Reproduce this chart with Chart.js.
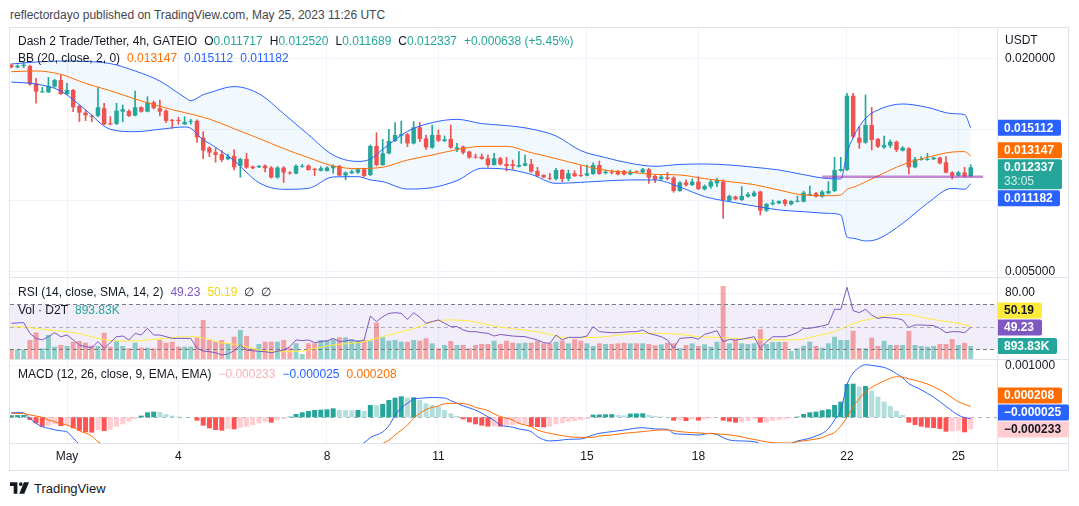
<!DOCTYPE html>
<html>
<head>
<meta charset="utf-8">
<title>Dash 2 Trade/Tether, 4h, GATEIO</title>
<script src="https://cdn.jsdelivr.net/npm/chart.js@4.4.1/dist/chart.umd.min.js"></script>
<style>
  html, body { margin:0; padding:0; background:#ffffff; }
  body { width:1079px; height:506px; position:relative; overflow:hidden; font-family:"Liberation Sans", Arial, sans-serif; color:#131722; }
  #hdr { position:absolute; left:10px; top:7px; font-size:12px; line-height:16px; color:#434651; white-space:nowrap; }
  #frame { position:absolute; left:9px; top:27px; width:1060px; height:444px; border:1px solid #e0e3eb; box-sizing:border-box; }
  .hsep { position:absolute; left:10px; width:1058px; height:1px; background:#e0e3eb; }
  #vsep { position:absolute; left:997px; top:28px; width:1px; height:442px; background:#e0e3eb; }
  canvas { position:absolute; left:0; }
  .leg { position:absolute; left:18px; font-size:12px; line-height:14px; white-space:pre; color:#131722; }
  .leg .g { margin-left:7px; }
  #usdt { position:absolute; left:1005px; top:33px; font-size:12px; line-height:14px; color:#131722; }
  #brand { position:absolute; left:10px; top:480px; height:16px; display:flex; align-items:center; font-size:13px; color:#131722; }
  #brand svg { margin-right:5px; }
</style>
</head>
<body>
<div id="hdr">reflectordayo published on TradingView.com, May 25, 2023 11:26 UTC</div>
<div id="frame"></div>
<canvas id="cMain" width="1079" height="249" style="top:28px"></canvas>
<canvas id="cRsi" width="1079" height="81" style="top:278px"></canvas>
<canvas id="cMacd" width="1079" height="110" style="top:360px"></canvas>
<div class="hsep" style="top:277px"></div>
<div class="hsep" style="top:359px"></div>
<div class="hsep" style="top:443px"></div>
<div id="vsep"></div>
<div class="leg" id="leg1" style="top:34px"></div>
<div class="leg" id="leg2" style="top:51px"></div>
<div class="leg" id="leg3" style="top:285px"></div>
<div class="leg" id="leg4" style="top:303px"></div>
<div class="leg" id="leg5" style="top:367px"></div>
<div id="usdt">USDT</div>
<div id="brand"><svg width="19" height="12" viewBox="0 0 36 22"><path d="M0 0h14v22H7V7H0z" fill="#131722"/><circle cx="20.5" cy="3.6" r="3.6" fill="#131722"/><path d="M26.5 0H36l-9 22h-9.5z" fill="#131722"/></svg>TradingView</div>

<script>
// ---------------- DATA (4h candles; index 0 = May 1 00:00 UTC) ----------------
const FIRST = -9;

const opens = [
  0.01953,0.01937,0.01946,0.01946,0.01824,0.01761,0.01761,0.01801,0.01847,0.01749,
  0.01777,0.01665,0.01618,0.01597,0.01595,0.01649,0.01543,0.01539,0.01625,0.01630,
  0.01597,0.01656,0.01625,0.01691,0.01649,0.01632,0.01567,0.01567,0.01536,0.01553,
  0.01560,0.01443,0.01372,0.01340,0.01326,0.01291,0.01314,0.01244,0.01293,0.01239,
  0.01234,0.01246,0.01232,0.01162,0.01232,0.01197,0.01190,0.01237,0.01246,0.01223,
  0.01210,0.01208,0.01227,0.01244,0.01176,0.01192,0.01196,0.01220,0.01180,0.01384,
  0.01250,0.01332,0.01419,0.01456,0.01466,0.01402,0.01515,0.01437,0.01372,0.01461,
  0.01419,0.01433,0.01362,0.01379,0.01344,0.01309,0.01309,0.01297,0.01250,0.01297,
  0.01257,0.01255,0.01238,0.01245,0.01257,0.01208,0.01180,0.01161,0.01152,0.01215,
  0.01152,0.01192,0.01180,0.01175,0.01187,0.01250,0.01192,0.01203,0.01208,0.01208,
  0.01184,0.01203,0.01198,0.01220,0.01173,0.01152,0.01163,0.01161,0.01067,0.01128,
  0.01109,0.01133,0.01079,0.01098,0.01121,0.01133,0.00999,0.01028,0.01004,0.01028,
  0.01032,0.01063,0.00929,0.00974,0.00981,0.01004,0.00974,0.00992,0.00992,0.01039,
  0.01051,0.01028,0.01051,0.01067,0.01210,0.01215,0.01737,0.01442,0.01407,0.01531,
  0.01433,0.01374,0.01386,0.01414,0.01351,0.01367,0.01234,0.01285,0.01285,0.01290,
  0.01302,0.01269,0.01198,0.01175,0.01198,0.011717
];
const highs = [
  0.01960,0.01955,0.01976,0.01953,0.01859,0.01796,0.01866,0.01852,0.01883,0.01824,
  0.01782,0.01672,0.01637,0.01602,0.01796,0.01684,0.01590,0.01684,0.01672,0.01637,
  0.01770,0.01660,0.01730,0.01700,0.01707,0.01637,0.01571,0.01585,0.01590,0.01571,
  0.01567,0.01485,0.01379,0.01368,0.01351,0.01326,0.01356,0.01298,0.01333,0.01244,
  0.01246,0.01251,0.01239,0.01239,0.01239,0.01204,0.01251,0.01255,0.01251,0.01227,
  0.01239,0.01237,0.01251,0.01248,0.01202,0.01215,0.01227,0.01227,0.01391,0.01477,
  0.01431,0.01501,0.01548,0.01559,0.01473,0.01555,0.01548,0.01461,0.01531,0.01496,
  0.01454,0.01531,0.01402,0.01384,0.01348,0.01327,0.01327,0.01320,0.01332,0.01304,
  0.01304,0.01285,0.01344,0.01320,0.01290,0.01234,0.01182,0.01192,0.01227,0.01220,
  0.01215,0.01210,0.01243,0.01250,0.01266,0.01278,0.01215,0.01215,0.01213,0.01213,
  0.01215,0.01210,0.01227,0.01227,0.01180,0.01180,0.01198,0.01168,0.01133,0.01145,
  0.01152,0.01168,0.01110,0.01145,0.01156,0.01145,0.01039,0.01032,0.01098,0.01056,
  0.01067,0.01067,0.00981,0.01004,0.00999,0.01009,0.00999,0.01032,0.01067,0.01102,
  0.01058,0.01070,0.01133,0.01304,0.01304,0.01754,0.01754,0.01519,0.01742,0.01655,
  0.01437,0.01454,0.01426,0.01419,0.01379,0.01372,0.01304,0.01309,0.01332,0.01306,
  0.01306,0.01309,0.01203,0.01206,0.01234,0.012520
];
const lows = [
  0.01932,0.01932,0.01934,0.01812,0.01684,0.01759,0.01759,0.01796,0.01745,0.01745,
  0.01625,0.01555,0.01562,0.01555,0.01590,0.01532,0.01532,0.01534,0.01555,0.01590,
  0.01595,0.01621,0.01623,0.01644,0.01595,0.01548,0.01508,0.01536,0.01534,0.01536,
  0.01408,0.01295,0.01308,0.01270,0.01274,0.01286,0.01216,0.01164,0.01227,0.01223,
  0.01232,0.01202,0.01157,0.01157,0.01127,0.01185,0.01187,0.01234,0.01213,0.01176,
  0.01208,0.01206,0.01192,0.01174,0.01146,0.01190,0.01190,0.01168,0.01175,0.01243,
  0.01248,0.01327,0.01414,0.01402,0.01379,0.01398,0.01414,0.01360,0.01367,0.01414,
  0.01414,0.01367,0.01344,0.01327,0.01297,0.01297,0.01290,0.01234,0.01248,0.01250,
  0.01208,0.01220,0.01234,0.01243,0.01198,0.01168,0.01161,0.01145,0.01145,0.01133,
  0.01138,0.01168,0.01168,0.01173,0.01184,0.01184,0.01187,0.01187,0.01180,0.01180,
  0.01180,0.01196,0.01196,0.01121,0.01126,0.01145,0.01145,0.01058,0.01065,0.01102,
  0.01105,0.01077,0.01074,0.01086,0.01098,0.00875,0.00992,0.01004,0.00999,0.01023,
  0.01028,0.00899,0.00922,0.00969,0.00976,0.00962,0.00969,0.00990,0.00990,0.01035,
  0.01023,0.01023,0.01046,0.01063,0.01205,0.01210,0.01438,0.01367,0.01402,0.01356,
  0.01372,0.01367,0.01372,0.01344,0.01348,0.01187,0.01229,0.01283,0.01283,0.01288,
  0.01257,0.01194,0.01152,0.01173,0.01168,0.011689
];
const closes = [
  0.01937,0.01948,0.01955,0.01817,0.01766,0.01766,0.01805,0.01847,0.01749,0.01777,
  0.01656,0.01618,0.01599,0.01590,0.01656,0.01536,0.01536,0.01632,0.01642,0.01595,
  0.01656,0.01625,0.01691,0.01649,0.01625,0.01560,0.01560,0.01560,0.01553,0.01560,
  0.01443,0.01351,0.01337,0.01321,0.01286,0.01309,0.01234,0.01293,0.01232,0.01227,
  0.01244,0.01227,0.01162,0.01232,0.01197,0.01190,0.01244,0.01244,0.01215,0.01215,
  0.01227,0.01232,0.01244,0.01176,0.01197,0.01204,0.01220,0.01173,0.01384,0.01250,
  0.01332,0.01419,0.01461,0.01468,0.01402,0.01515,0.01433,0.01374,0.01461,0.01421,
  0.01430,0.01372,0.01374,0.01337,0.01302,0.01302,0.01292,0.01250,0.01297,0.01255,
  0.01243,0.01243,0.01250,0.01262,0.01203,0.01173,0.01163,0.01154,0.01215,0.01152,
  0.01192,0.01173,0.01173,0.01192,0.01250,0.01187,0.01203,0.01196,0.01184,0.01184,
  0.01203,0.01198,0.01220,0.01161,0.01149,0.01168,0.01152,0.01067,0.01128,0.01109,
  0.01133,0.01081,0.01102,0.01133,0.01145,0.01004,0.01032,0.01009,0.01032,0.01044,
  0.01056,0.00929,0.00976,0.00985,0.00997,0.00976,0.00997,0.00999,0.01056,0.01046,
  0.01028,0.01063,0.01067,0.01215,0.01222,0.01737,0.01449,0.01407,0.01531,0.01426,
  0.01379,0.01391,0.01414,0.01356,0.01372,0.01234,0.01290,0.01290,0.01290,0.01302,
  0.01262,0.01196,0.01175,0.01198,0.011699,0.012337
];
// volume in thousands of D2T
const volumesK = [
  667,667,667,1306,1836,736,1650,846,963,894,
  1190,1238,1121,915,894,1808,846,1238,894,736,
  1121,777,777,736,1306,1121,1190,846,846,846,
  1465,2682,1306,1190,1306,1080,1533,1994,1581,736,
  1031,1190,1190,1190,1306,777,1080,344,1080,1080,
  1306,1306,1355,1492,1492,1355,1306,1306,1258,2496,
  1492,1258,1306,1190,1190,1306,1258,1423,1080,736,
  963,1238,963,963,736,963,1031,1031,1258,1040,
  1258,1121,1080,1121,1121,1258,1080,1080,1190,1258,
  1080,1355,1258,1080,894,1080,1031,1031,1080,1121,
  1080,1080,1080,1031,942,1011,1121,1080,736,963,
  1080,894,1011,846,1190,5019,1080,1306,1080,1031,
  1080,2042,1031,1169,1169,1169,571,736,915,1190,
  894,777,1080,1533,1306,1306,1946,736,736,1465,
  894,1258,963,963,963,1925,963,894,846,894,
  1031,1031,1375,963,1121,893.83
];
const macdHist = [
  4.0e-5,4.3e-5,4.5e-5,-5.1e-5,-1.15e-4,-1.79e-4,-1.60e-4,-1.35e-4,-1.67e-4,-1.47e-4,
  -2.12e-4,-2.56e-4,-2.88e-4,-2.95e-4,-2.44e-4,-2.63e-4,-2.37e-4,-1.79e-4,-1.35e-4,-8.3e-5,
  -3.2e-5,3.2e-5,9.6e-5,1.09e-4,1.03e-4,6.4e-5,3.2e-5,1.3e-5,6e-6,3e-6,
  -6.4e-5,-1.60e-4,-2.12e-4,-2.44e-4,-2.56e-4,-2.24e-4,-2.31e-4,-1.99e-4,-1.79e-4,-1.47e-4,
  -1.15e-4,-9.0e-5,-1.03e-4,-5.1e-5,-3.2e-5,1.3e-5,6.4e-5,9.6e-5,1.22e-4,1.41e-4,
  1.47e-4,1.54e-4,1.73e-4,1.41e-4,1.38e-4,1.35e-4,1.41e-4,1.22e-4,2.37e-4,2.31e-4,
  2.56e-4,3.33e-4,3.78e-4,4.04e-4,3.78e-4,3.85e-4,3.33e-4,2.69e-4,2.37e-4,2.05e-4,
  1.41e-4,7.7e-5,2.6e-5,-3.8e-5,-9.6e-5,-1.35e-4,-1.60e-4,-1.79e-4,-1.73e-4,-1.79e-4,
  -1.60e-4,-1.47e-4,-1.35e-4,-1.28e-4,-1.79e-4,-1.86e-4,-1.92e-4,-1.79e-4,-1.35e-4,-1.15e-4,
  -8.3e-5,-7.1e-5,-5.1e-5,-3.2e-5,5.1e-5,5.4e-5,5.8e-5,6.1e-5,4.5e-5,3.8e-5,
  7.1e-5,7.4e-5,7.7e-5,4.5e-5,2.6e-5,1.3e-5,6e-6,-6.4e-5,-5.1e-5,-7.1e-5,
  -3.8e-5,-6.4e-5,-3.8e-5,-1.9e-5,-6e-6,-6.4e-5,-8.3e-5,-1.03e-4,-9.6e-5,-7.1e-5,
  -3.8e-5,-1.03e-4,-9.6e-5,-7.1e-5,-5.1e-5,-3.8e-5,-1.9e-5,1.3e-5,6.4e-5,9.6e-5,
  1.09e-4,1.35e-4,1.54e-4,2.37e-4,3.01e-4,6.41e-4,6.47e-4,5.90e-4,6.03e-4,5.13e-4,
  3.97e-4,3.01e-4,2.18e-4,1.22e-4,4.5e-5,-1.03e-4,-1.47e-4,-1.79e-4,-1.99e-4,-2.05e-4,
  -2.24e-4,-2.76e-4,-2.69e-4,-2.63e-4,-2.88e-4,-2.33e-4
];
// Bollinger Bands (20, 2) read at sample candles: [index, upper, basis, lower]
const bbRows = [
  [-9,0.01960,0.01906,0.01833],[-5,0.01974,0.01911,0.01819],[-1,0.01981,0.01887,0.01770],
  [3,0.01978,0.01824,0.01637],[7,0.01963,0.01772,0.01501],[11,0.01911,0.01714,0.01484],
  [15,0.01840,0.01662,0.01501],[19,0.01726,0.01618,0.01517],[20,0.01702,0.01608,0.01508],
  [22,0.01744,0.01585,0.01426],[23,0.01758,0.01573,0.01402],[27,0.01801,0.01505,0.01280],
  [31,0.01751,0.01437,0.01126],[35,0.01611,0.01365,0.01079],[39,0.01463,0.01302,0.01086],
  [43,0.01320,0.01243,0.01166],[47,0.01275,0.01224,0.01168],[49,0.01292,0.01227,0.01145],
  [51,0.01360,0.01234,0.01133],[55,0.01487,0.01285,0.01081],[59,0.01548,0.01320,0.01091],
  [63,0.01571,0.01358,0.01140],[67,0.01541,0.01381,0.01227],[71,0.01527,0.01381,0.01220],
  [75,0.01503,0.01337,0.01184],[79,0.01454,0.01295,0.01121],[83,0.01351,0.01250,0.01128],
  [87,0.01302,0.01213,0.01138],[91,0.01262,0.01198,0.01145],[95,0.01241,0.01184,0.01145],
  [99,0.01254,0.01180,0.01095],[103,0.01257,0.01154,0.01028],[107,0.01250,0.01133,0.00992],
  [111,0.01234,0.01112,0.00962],[115,0.01215,0.01074,0.00934],[119,0.01182,0.01039,0.00922],
  [123,0.01154,0.01034,0.00910],[125,0.01152,0.01039,0.00899],[126,0.01332,0.01079,0.00746],
  [127,0.01444,0.01093,0.00735],[129,0.01578,0.01131,0.00716],[131,0.01637,0.01173,0.00730],
  [135,0.01679,0.01252,0.00840],[139,0.01655,0.01304,0.00981],[143,0.01611,0.01341,0.01086],
  [145,0.01604,0.01344,0.01079],[146,0.015112,0.013147,0.011182]
];
// RSI (14) and its SMA (14): [index, value]
const rsiPts = [
  [-9,53.0],[-7,53.6],[-6,44.0],[-5,39.5],[-4,38.1],[-3,41.0],[-2,44.6],[-1,41.0],[0,42.5],[1,38.1],
  [2,33.6],[3,32.1],[4,31.2],[5,36.6],[6,30.6],[8,41.0],[9,41.6],[10,38.1],[11,44.0],[12,42.5],
  [13,48.5],[14,42.5],[15,42.5],[16,41.0],[17,39.5],[18,39.5],[20,39.5],[21,30.6],[22,28.2],[23,27.6],
  [24,26.7],[25,24.6],[26,25.5],[27,28.5],[28,33.6],[29,29.1],[30,28.5],[31,27.9],[32,27.6],[33,26.7],
  [35,29.1],[36,32.1],[37,38.1],[38,37.5],[39,38.1],[40,35.7],[41,36.6],[42,37.2],[43,39.5],[44,36.6],
  [45,37.2],[46,38.1],[47,36.6],[48,38.1],[49,59.5],[50,54.5],[51,58.9],[52,61.9],[53,62.5],[54,61.9],
  [55,56.5],[56,62.5],[57,58.3],[58,53.0],[59,54.5],[60,56.0],[61,53.0],[62,50.0],[63,50.0],[64,47.0],
  [65,45.5],[66,45.5],[67,44.6],[68,44.0],[69,41.6],[70,43.0],[72,41.6],[74,41.0],[76,38.1],[77,35.7],
  [78,35.1],[79,42.5],[80,38.1],[81,40.4],[83,40.4],[84,41.6],[85,50.0],[86,45.5],[88,44.6],[89,44.6],
  [91,45.5],[92,45.5],[93,47.0],[94,44.0],[95,42.5],[96,41.0],[97,38.0],[98,30.6],[99,39.5],[101,40.4],
  [102,38.7],[103,43.1],[104,44.6],[105,46.4],[106,36.6],[107,38.5],[108,38.1],[109,38.7],[111,41.0],[112,30.6],
  [113,36.6],[114,41.0],[116,41.0],[117,42.5],[118,44.6],[119,48.5],[120,48.5],[122,50.6],[123,52.1],[124,65.5],
  [125,65.5],[126,85.2],[127,64.3],[128,62.5],[129,65.5],[130,60.4],[131,57.4],[132,58.3],[134,57.4],[135,56.0],
  [136,49.1],[137,51.5],[138,51.5],[140,50.9],[141,48.5],[142,44.6],[143,45.5],[144,45.5],[145,44.6],[146,49.23]
];
const rsiMaPts = [
  [-9,50.6],[-8,50.0],[-5,48.5],[-3,47.0],[0,45.5],[3,42.5],[5,39.5],[8,37.2],[11,37.2],[13,38.1],
  [16,39.5],[19,41.0],[20,41.0],[23,38.7],[24,36.6],[27,34.2],[30,30.6],[32,28.2],[35,27.6],[38,28.2],
  [40,30.6],[43,33.6],[46,35.1],[47,35.7],[48,36.6],[51,41.0],[54,45.5],[57,50.0],[59,54.5],[62,56.0],
  [65,55.1],[67,53.0],[70,49.5],[74,47.0],[78,43.1],[80,40.4],[83,40.1],[87,41.0],[90,43.1],[93,44.0],
  [96,44.0],[99,43.1],[102,41.0],[105,40.4],[108,39.5],[111,38.7],[114,38.1],[117,38.1],[119,39.0],[121,41.6],
  [124,45.5],[126,50.6],[128,54.5],[131,58.3],[134,61.0],[136,60.6],[138,58.4],[141,55.4],[144,53.0],[146,50.19]
];
// MACD (12, 26, 9) line and signal: [index, value]
const macdPts = [
  [-9,8.8e-5],[-8,9.2e-5],[-7,8.5e-5],[-6,-2e-5],[-5,-1.15e-4],[-4,-1.8e-4],[-3,-2.1e-4],[-2,-2.4e-4],[-1,-2.6e-4],[0,-2.8e-4],
  [1,-4.0e-4],[2,-5.2e-4],[4,-6.5e-4],[8,-7.5e-4],[14,-7e-4],[20,-7.2e-4],[24,-9e-4],[30,-9.5e-4],[36,-8.5e-4],[42,-7e-4],
  [46,-6e-4],[48,-4.9e-4],[49,-3.9e-4],[51,-2.8e-4],[52,-1.6e-4],[53,4e-5],[54,1.8e-4],[55,2.7e-4],[56,3.5e-4],[57,3.65e-4],
  [59,3.8e-4],[61,3.7e-4],[62,3.2e-4],[63,2.7e-4],[64,2.2e-4],[65,1.8e-4],[66,1.4e-4],[68,1e-5],[69,-6e-5],[70,-1.47e-4],
  [72,-1.9e-4],[73,-2.24e-4],[75,-2.76e-4],[76,-3.72e-4],[78,-4.55e-4],[80,-4.36e-4],[81,-4.23e-4],[83,-4.17e-4],[85,-3.4e-4],[86,-3.08e-4],
  [88,-2.76e-4],[90,-2.44e-4],[93,-1.99e-4],[95,-2.24e-4],[97,-2.31e-4],[98,-3.08e-4],[100,-3.27e-4],[102,-3.4e-4],[104,-3.08e-4],[105,-3.3e-4],
  [106,-3.9e-4],[107,-4.36e-4],[109,-4.55e-4],[111,-4.68e-4],[113,-5.4e-4],[116,-5.4e-4],[117,-5.0e-4],[118,-4.55e-4],[120,-4.04e-4],[121,-3.59e-4],
  [122,-3.1e-4],[123,-2.2e-4],[124,-5e-5],[125,1.3e-4],[126,6.2e-4],[127,8.5e-4],[128,9.6e-4],[129,1.01e-3],[130,1.0e-3],[131,9.8e-4],
  [132,9.6e-4],[133,9.1e-4],[134,8.4e-4],[135,7.6e-4],[136,6.5e-4],[138,5.3e-4],[139,4.6e-4],[140,3.9e-4],[142,2.1e-4],[143,1.2e-4],
  [144,4e-5],[145,-5e-6],[146,-2.5e-5]
];
const signalPts = [
  [-9,7.7e-5],[-7,7.3e-5],[-6,4.4e-5],[-4,0],[-3,-5e-5],[-1,-1.15e-4],[0,-1.5e-4],[1,-1.9e-4],[2,-2.6e-4],[4,-3.6e-4],
  [5,-4.7e-4],[8,-6e-4],[15,-7.5e-4],[25,-8.5e-4],[35,-9e-4],[45,-7e-4],[50,-5.5e-4],[52,-4.4e-4],[53,-3.4e-4],[55,-1.5e-4],
  [56,-2e-5],[58,1.5e-4],[60,2.2e-4],[61,2.6e-4],[63,2.7e-4],[65,2.4e-4],[66,1.9e-4],[68,1.3e-4],[69,6.4e-5],[70,1.5e-5],
  [72,-5.1e-5],[73,-1.15e-4],[75,-1.79e-4],[76,-2.44e-4],[78,-3.08e-4],[80,-3.53e-4],[81,-3.72e-4],[83,-3.85e-4],[85,-3.85e-4],[86,-3.59e-4],
  [88,-3.4e-4],[90,-3.08e-4],[93,-2.76e-4],[95,-2.5e-4],[97,-2.44e-4],[99,-2.76e-4],[101,-2.95e-4],[103,-3.08e-4],[106,-3.27e-4],[108,-3.53e-4],
  [110,-4.04e-4],[112,-4.49e-4],[114,-4.87e-4],[116,-4.94e-4],[117,-4.94e-4],[118,-4.68e-4],[120,-4.36e-4],[122,-3.91e-4],[123,-3.4e-4],[124,-2.9e-4],
  [125,-1.7e-4],[126,0],[127,2e-4],[128,3.6e-4],[129,4.9e-4],[130,5.8e-4],[131,6.4e-4],[132,7.0e-4],[133,7.5e-4],[134,7.8e-4],
  [135,7.7e-4],[136,7.4e-4],[138,6.8e-4],[140,5.9e-4],[142,4.6e-4],[144,3.0e-4],[146,2.08e-4]
];
// user-drawn horizontal level
const levelPts = [[122,0.01168],[148,0.01168]];
// time axis
const tickPos = [0,18,42,60,84,102,126,144];
const tickLabels = ['May','4','8','11','15','18','22','25'];
const countdown = '33:05';

// ---------------- VIEW / STYLE ----------------
const X_MIN = -9.21, X_MAX = 150.24;
const MAIN_RANGE = [0.004627, 0.02213];
const RSI_RANGE = [21.05, 93.53];
const MACD_RANGE = [-0.000494, 0.001102];
const VOL_MAX = 5570;
const UP = '#26a69a', DOWN = '#ef5350', BLUE = '#2962ff', ORANGE = '#ff6d00';
const PURPLE = '#7e57c2', YELLOW = '#ffeb3b', GRID = '#f0f3fa', TXT = '#131722';
const LAB_FONT = '"Liberation Sans", Arial, sans-serif';

Chart.defaults.font.family = LAB_FONT;
Chart.defaults.animation = false;

const N = opens.length, LAST = N - 1;
const xs = opens.map((_, k) => FIRST + k);
const isDown = k => closes[k] < opens[k];
const fmt6 = v => (v < 0 ? '\u2212' : '') + Math.abs(v).toFixed(6);
const toXY = arr => arr.map(p => ({ x: p[0], y: p[1] }));

function xAxis(showLabels) {
  return {
    type: 'linear', min: X_MIN, max: X_MAX, offset: false, bounds: 'data',
    grid: { color: GRID, drawTicks: false, offset: false, lineWidth: 1 },
    border: { display: false },
    ticks: {
      display: showLabels, autoSkip: false, maxRotation: 0, padding: 6, color: TXT,
      font: { family: LAB_FONT, size: 12 },
      callback: v => { const k = tickPos.indexOf(v); return k < 0 ? '' : tickLabels[k]; }
    },
    afterBuildTicks: s => { s.ticks = tickPos.map(v => ({ value: v })); },
    afterFit: s => { s.height = showLabels ? 27 : 0; s.paddingLeft = 0; s.paddingRight = 0; }
  };
}
function yAxis(range, gridVals) {
  return {
    type: 'linear', position: 'right', min: range[0], max: range[1], bounds: 'data',
    grid: { color: GRID, drawTicks: false, lineWidth: 1 },
    border: { display: false },
    ticks: { display: false },
    afterBuildTicks: s => { s.ticks = gridVals.map(v => ({ value: v })); },
    afterFit: s => { s.width = 71; s.paddingTop = 0; s.paddingBottom = 0; }
  };
}

// right-axis labels + colored last-value boxes (positions via scales, overlaps pushed apart)
const rightLabels = {
  id: 'rightLabels',
  afterDraw(chart, args, o) {
    const ctx = chart.ctx, x0 = chart.chartArea.right;
    const boxes = o.boxes.map(b => {
      const sc = chart.scales[b.axis || 'y'];
      return Object.assign({}, b, { top: sc.getPixelForValue(b.value) - 8, h: b.sub ? 30 : 16 });
    });
    const sorted = boxes.slice().sort((p, q) => p.top - q.top);
    const ai = sorted.indexOf(boxes[o.anchor]);
    for (let k = ai - 1; k >= 0; k--) {
      const n = sorted[k + 1];
      if (sorted[k].top + sorted[k].h > n.top - 1) sorted[k].top = n.top - 1 - sorted[k].h;
    }
    for (let k = ai + 1; k < sorted.length; k++) {
      const p = sorted[k - 1];
      if (sorted[k].top < p.top + p.h + 1) sorted[k].top = p.top + p.h + 1;
    }
    const y = chart.scales.y;
    ctx.save();
    ctx.textBaseline = 'middle'; ctx.textAlign = 'left';
    ctx.font = '12px ' + LAB_FONT; ctx.fillStyle = TXT;
    for (const t of o.ticks) {
      const py = y.getPixelForValue(t);
      if (boxes.some(b => py > b.top - 7 && py < b.top + b.h + 7)) continue;
      ctx.fillText(o.fmt(t), x0 + 8, py);
    }
    for (const b of boxes) {
      ctx.font = 'bold 12px ' + LAB_FONT;
      const w = Math.ceil(ctx.measureText(b.text).width) + 13;
      ctx.fillStyle = b.bg;
      ctx.beginPath();
      if (ctx.roundRect) ctx.roundRect(x0 + 1, b.top, w, b.h, [0, 2, 2, 0]); else ctx.rect(x0 + 1, b.top, w, b.h);
      ctx.fill();
      ctx.fillStyle = b.fg;
      ctx.fillText(b.text, x0 + 7, b.top + 8.5);
      if (b.sub) {
        ctx.font = '12px ' + LAB_FONT; ctx.fillStyle = 'rgba(255,255,255,0.8)';
        ctx.fillText(b.sub, x0 + 7, b.top + 22.5);
      }
    }
    ctx.restore();
  }
};

const rsiBands = {
  id: 'rsiBands',
  beforeDatasetsDraw(chart, a, o) {
    const ctx = chart.ctx, ca = chart.chartArea, y = chart.scales.y;
    const t = y.getPixelForValue(o.fill[0]), b = y.getPixelForValue(o.fill[1]);
    ctx.save(); ctx.fillStyle = 'rgba(126,87,194,0.1)';
    ctx.fillRect(ca.left, t, ca.right - ca.left, b - t); ctx.restore();
  },
  afterDatasetDraw(chart, a, o) {
    if (a.index !== o.after) return;
    const ctx = chart.ctx, ca = chart.chartArea, y = chart.scales.y;
    ctx.save(); ctx.setLineDash([4, 3]); ctx.lineWidth = 1;
    o.levels.forEach((lv, k) => {
      const py = Math.round(y.getPixelForValue(lv)) + 0.5;
      ctx.strokeStyle = o.colors[k];
      ctx.beginPath(); ctx.moveTo(ca.left, py); ctx.lineTo(ca.right, py); ctx.stroke();
    });
    ctx.restore();
  }
};

const zeroLine = {
  id: 'zeroLine',
  beforeDatasetsDraw(chart) {
    const ctx = chart.ctx, ca = chart.chartArea, y = chart.scales.y;
    const py = Math.round(y.getPixelForValue(0)) + 0.5;
    ctx.save(); ctx.setLineDash([4, 4]); ctx.lineWidth = 1; ctx.strokeStyle = 'rgba(120,123,134,0.6)';
    ctx.beginPath(); ctx.moveTo(ca.left, py); ctx.lineTo(ca.right, py); ctx.stroke(); ctx.restore();
  }
};

const baseOpts = (extraPlugins, scales) => ({
  responsive: false, maintainAspectRatio: false, animation: false, events: [],
  layout: { padding: { left: 10, right: 11, top: 0, bottom: 0 } },
  plugins: Object.assign({ legend: { display: false }, tooltip: { enabled: false }, filler: { drawTime: 'beforeDatasetsDraw' } }, extraPlugins),
  scales
});

// ---------------- MAIN PRICE PANE ----------------
const lastBB = bbRows[bbRows.length - 1];
new Chart(document.getElementById('cMain'), {
  type: 'bar',
  data: { datasets: [
    { type: 'line', data: bbRows.map(r => ({ x: r[0], y: r[1] })), borderColor: BLUE, borderWidth: 1, pointRadius: 0,
      cubicInterpolationMode: 'monotone', fill: '+1', backgroundColor: 'rgba(33,150,243,0.06)', order: 2 },
    { type: 'line', data: bbRows.map(r => ({ x: r[0], y: r[3] })), borderColor: BLUE, borderWidth: 1, pointRadius: 0,
      cubicInterpolationMode: 'monotone', fill: false, order: 2 },
    { type: 'line', data: bbRows.map(r => ({ x: r[0], y: r[2] })), borderColor: ORANGE, borderWidth: 1, pointRadius: 0,
      cubicInterpolationMode: 'monotone', fill: false, order: 2 },
    { type: 'bar', data: xs.map((x, k) => ({ x, y: [lows[k], highs[k]] })), grouped: false, barThickness: 1,
      backgroundColor: c => (c.dataIndex !== undefined && isDown(c.dataIndex)) ? DOWN : UP, borderWidth: 0, order: 5 },
    { type: 'bar', data: xs.map((x, k) => ({ x, y: [opens[k], closes[k]] })), grouped: false,
      categoryPercentage: 1, barPercentage: 0.72, minBarLength: 1,
      backgroundColor: c => (c.dataIndex !== undefined && isDown(c.dataIndex)) ? DOWN : UP, borderWidth: 0, order: 4 },
    { type: 'line', data: toXY(levelPts), borderColor: 'rgba(156,39,176,0.55)', borderWidth: 2.5, pointRadius: 0, fill: false, order: 0 }
  ]},
  options: baseOpts({
    rightLabels: {
      ticks: [0.005, 0.01, 0.015, 0.02], fmt: v => v.toFixed(6), anchor: 2,
      boxes: [
        { value: lastBB[1], text: lastBB[1].toFixed(6), bg: BLUE, fg: '#ffffff' },
        { value: lastBB[2], text: lastBB[2].toFixed(6), bg: ORANGE, fg: '#ffffff' },
        { value: closes[LAST], text: closes[LAST].toFixed(6), sub: countdown, bg: isDown(LAST) ? DOWN : UP, fg: '#ffffff' },
        { value: lastBB[3], text: lastBB[3].toFixed(6), bg: BLUE, fg: '#ffffff' }
      ]
    }
  }, { x: xAxis(false), y: yAxis(MAIN_RANGE, [0.005, 0.01, 0.015, 0.02]) }),
  plugins: [rightLabels]
});

// ---------------- RSI + VOLUME PANE ----------------
const lastRsi = rsiPts[rsiPts.length - 1][1], lastRsiMa = rsiMaPts[rsiMaPts.length - 1][1];
new Chart(document.getElementById('cRsi'), {
  type: 'bar',
  data: { datasets: [
    { type: 'bar', yAxisID: 'yv', data: xs.map((x, k) => ({ x, y: volumesK[k] })), grouped: false,
      categoryPercentage: 1, barPercentage: 0.8, borderWidth: 0,
      backgroundColor: c => (c.dataIndex !== undefined && isDown(c.dataIndex)) ? 'rgba(239,83,80,0.5)' : 'rgba(38,166,154,0.5)', order: 10 },
    { type: 'line', data: toXY(rsiMaPts), borderColor: YELLOW, borderWidth: 1, pointRadius: 0, cubicInterpolationMode: 'monotone', order: 1 },
    { type: 'line', data: toXY(rsiPts), borderColor: PURPLE, borderWidth: 1, pointRadius: 0, tension: 0, order: 0 }
  ]},
  options: baseOpts({
    rsiBands: { fill: [70, 30], levels: [70, 50, 30], colors: ['#787b86', 'rgba(120,123,134,0.55)', '#787b86'], after: 0 },
    rightLabels: {
      ticks: [80], fmt: v => v.toFixed(2), anchor: 1,
      boxes: [
        { value: lastRsiMa, text: lastRsiMa.toFixed(2), bg: YELLOW, fg: TXT },
        { value: lastRsi, text: lastRsi.toFixed(2), bg: PURPLE, fg: '#ffffff' },
        { axis: 'yv', value: volumesK[LAST], text: volumesK[LAST].toFixed(2) + 'K', bg: isDown(LAST) ? DOWN : UP, fg: '#ffffff' }
      ]
    }
  }, {
    x: xAxis(false), y: yAxis(RSI_RANGE, [80]),
    yv: { type: 'linear', display: false, min: 0, max: VOL_MAX, afterFit: s => { s.paddingTop = 0; s.paddingBottom = 0; } }
  }),
  plugins: [rsiBands, rightLabels]
});

// ---------------- MACD PANE ----------------
const histColor = k => {
  const v = macdHist[k], p = k > 0 ? macdHist[k - 1] : v;
  return v >= 0 ? (v >= p ? '#26a69a' : '#b2dfdb') : (v <= p ? '#ff5252' : '#ffcdd2');
};
const lastMacd = macdPts[macdPts.length - 1][1], lastSig = signalPts[signalPts.length - 1][1], lastHist = macdHist[LAST];
new Chart(document.getElementById('cMacd'), {
  type: 'bar',
  data: { datasets: [
    { type: 'bar', data: xs.map((x, k) => ({ x, y: macdHist[k] })), grouped: false, categoryPercentage: 1, barPercentage: 0.8,
      borderWidth: 0, backgroundColor: c => c.dataIndex !== undefined ? histColor(c.dataIndex) : UP, order: 5 },
    { type: 'line', data: toXY(macdPts), borderColor: BLUE, borderWidth: 1, pointRadius: 0, cubicInterpolationMode: 'monotone', order: 1 },
    { type: 'line', data: toXY(signalPts), borderColor: ORANGE, borderWidth: 1, pointRadius: 0, cubicInterpolationMode: 'monotone', order: 0 }
  ]},
  options: baseOpts({
    rightLabels: {
      ticks: [0.001], fmt: v => v.toFixed(6), anchor: 2,
      boxes: [
        { value: lastSig, text: fmt6(lastSig), bg: ORANGE, fg: '#ffffff' },
        { value: lastMacd, text: fmt6(lastMacd), bg: BLUE, fg: '#ffffff' },
        { value: lastHist, text: fmt6(lastHist), bg: '#ffcdd2', fg: TXT }
      ]
    }
  }, { x: xAxis(true), y: yAxis(MACD_RANGE, [0.001]) }),
  plugins: [zeroLine, rightLabels]
});

// ---------------- LEGENDS (text from data) ----------------
const valCol = isDown(LAST) ? DOWN : UP;
const chg = closes[LAST] - closes[LAST - 1];
const pct = chg / closes[LAST - 1] * 100;
const sgn = v => (v >= 0 ? '+' : '\u2212');
const sp = (t, c) => `<span style="color:${c}">${t}</span>`;
const g = (t) => `<span class="g">${t}</span>`;
document.getElementById('leg1').innerHTML =
  'Dash 2 Trade/Tether, 4h, GATEIO' +
  g('O' + sp(opens[LAST].toFixed(6), valCol)) +
  g('H' + sp(highs[LAST].toFixed(6), valCol)) +
  g('L' + sp(lows[LAST].toFixed(6), valCol)) +
  g('C' + sp(closes[LAST].toFixed(6), valCol)) +
  g(sp(sgn(chg) + Math.abs(chg).toFixed(6) + ' (' + sgn(pct) + Math.abs(pct).toFixed(2) + '%)', valCol));
document.getElementById('leg2').innerHTML =
  'BB (20, close, 2, 0)' + g(sp(lastBB[2].toFixed(6), ORANGE)) + g(sp(lastBB[1].toFixed(6), BLUE)) + g(sp(lastBB[3].toFixed(6), BLUE));
document.getElementById('leg3').innerHTML =
  'RSI (14, close, SMA, 14, 2)' + g(sp(lastRsi.toFixed(2), PURPLE)) + g(sp(lastRsiMa.toFixed(2), '#f2d40f')) + g('\u2205') + g('\u2205');
document.getElementById('leg4').innerHTML =
  'Vol \u00b7 D2T' + g(sp(volumesK[LAST].toFixed(2) + 'K', valCol));
document.getElementById('leg5').innerHTML =
  'MACD (12, 26, close, 9, EMA, EMA)' + g(sp(fmt6(lastHist), '#f7b3ba')) + g(sp(fmt6(lastMacd), BLUE)) + g(sp(fmt6(lastSig), ORANGE));
</script>
</body>
</html>
